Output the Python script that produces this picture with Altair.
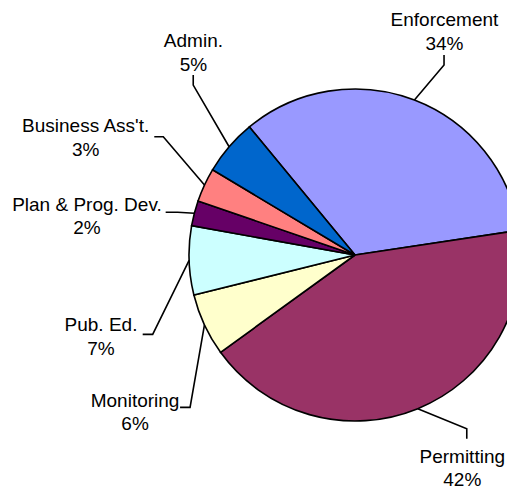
import math
import altair as alt
import pandas as pd

# ---- data ----
categories = ["Enforcement", "Permitting", "Monitoring", "Pub. Ed.",
              "Plan & Prog. Dev.", "Business Ass't.", "Admin."]
values = [33.6, 42.4, 6.1, 6.7, 2.45, 3.3, 5.45]
colors = ["#9999FF", "#993366", "#FFFFCC", "#CCFFFF", "#660066", "#FF8080", "#0066CC"]

# ---- layout (pixels, chart coordinates) ----
W, H = 499, 484
CX, CY, R = 347, 247, 166
START_DEG = -39.5
START = math.radians(START_DEG)

# label first-line baseline centre, offset from rim point at slice mid-angle
label_offset = {
    "Enforcement": (30, -74),
    "Permitting": (44.5, 54),
    "Monitoring": (-69.4, 81.8),
    "Pub. Ed.": (-88.1, 70.6),
    "Plan & Prog. Dev.": (-107.4, -2.2),
    "Business Ass't.": (-118.8, -53),
    "Admin.": (-35.7, -99.7),
}
# leader attach point (at label), offset from rim point; and elbow direction
leader_attach = {
    "Enforcement": ((29.6, -45), (0, 10)),
    "Permitting": ((49, 30), (0, -10)),
    "Monitoring": ((-24.4, 82.4), (10, 0)),
    "Pub. Ed.": ((-46.4, 73.9), (10, 0)),
    "Plan & Prog. Dev.": ((-28.7, -0.9), (12, 0)),
    "Business Ass't.": ((-50.2, -48.3), (9, 0)),
    "Admin.": ((-35.9, -71.7), (0, 10)),
}

total = sum(values)
rows_lead, rows_lab = [], []
cum = 0.0
for cat, v in zip(categories, values):
    mid = START + 2 * math.pi * (cum + v / 2) / total
    cum += v
    rx = CX + R * math.sin(mid)
    ry = CY - R * math.cos(mid)
    (adx, ady), (edx, edy) = leader_attach[cat]
    ax, ay = rx + adx, ry + ady
    rows_lead += [
        {"category": cat, "pt": 0, "x": rx, "y": ry},
        {"category": cat, "pt": 1, "x": ax + edx, "y": ay + edy},
        {"category": cat, "pt": 2, "x": ax, "y": ay},
    ]
    ldx, ldy = label_offset[cat]
    rows_lab.append({"category": cat, "x": rx + ldx, "y": ry + ldy,
                     "label": f"{cat}\n{round(v / total * 100)}%"})

pie_df = pd.DataFrame({"category": categories, "value": values,
                       "order": list(range(len(categories)))})
lead_df = pd.DataFrame(rows_lead)
lab_df = pd.DataFrame(rows_lab)

pie = alt.Chart(pie_df).mark_arc(radius=R, stroke="black", strokeWidth=1.6).encode(
    theta=alt.Theta("value:Q", stack=True,
                    scale=alt.Scale(domain=[0, total], range=[START, START + 2 * math.pi])),
    color=alt.Color("category:N", scale=alt.Scale(domain=categories, range=colors), legend=None),
    order=alt.Order("order:Q"),
    x=alt.value(CX),
    y=alt.value(CY),
)

leaders = alt.Chart(lead_df).mark_line(color="black", strokeWidth=1.6).encode(
    x=alt.X("x:Q", scale=None, axis=None),
    y=alt.Y("y:Q", scale=None, axis=None),
    detail="category:N",
    order="pt:Q",
)

labels = alt.Chart(lab_df).mark_text(
    align="center", baseline="alphabetic", lineBreak="\n", lineHeight=23.5,
    font="Liberation Sans", fontSize=19, color="black",
).encode(
    x=alt.X("x:Q", scale=None, axis=None),
    y=alt.Y("y:Q", scale=None, axis=None),
    text="label:N",
)

chart = alt.layer(pie, leaders, labels).properties(
    width=W, height=H, padding=0,
    autosize=alt.AutoSizeParams(type="none"),
).configure_view(stroke=None)

chart.save("out.html", embed_options={"renderer": "svg", "actions": False})
